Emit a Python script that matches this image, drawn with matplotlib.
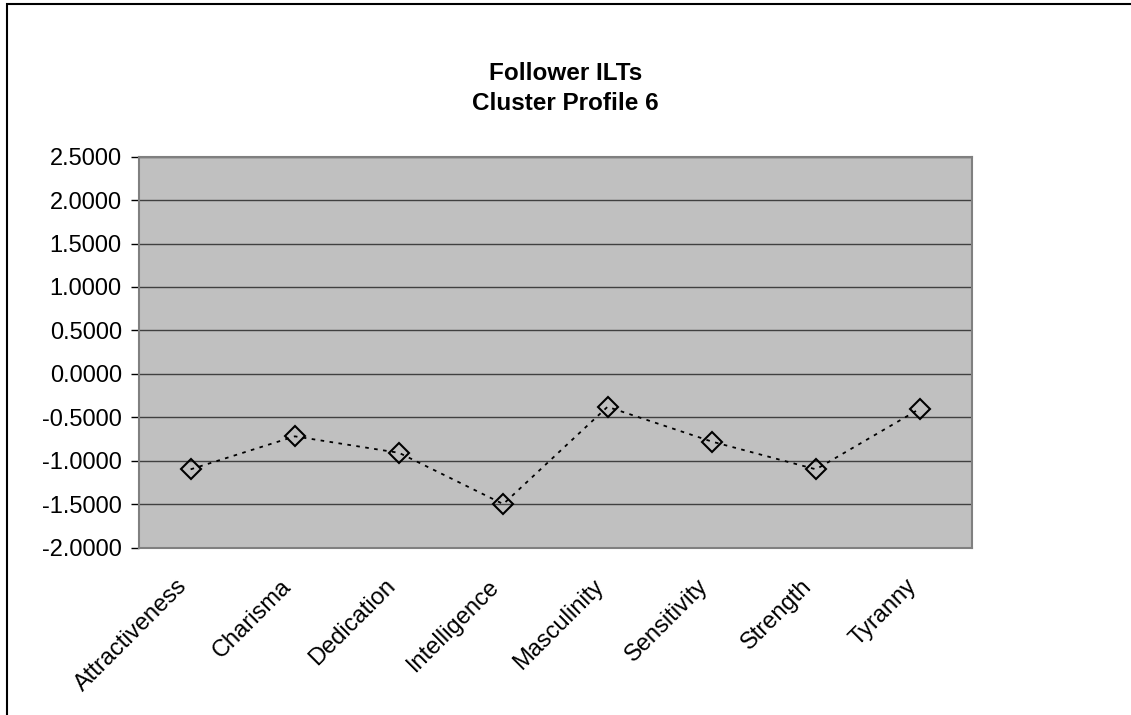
import matplotlib
matplotlib.use("Agg")
import matplotlib.pyplot as plt
from matplotlib.ticker import FormatStrFormatter, MultipleLocator
from matplotlib.patches import Rectangle
from matplotlib.transforms import ScaledTranslation

categories = ["Attractiveness", "Charisma", "Dedication", "Intelligence",
              "Masculinity", "Sensitivity", "Strength", "Tyranny"]
values = [-1.10, -0.72, -0.91, -1.50, -0.38, -0.78, -1.10, -0.40]
title_lines = ["Follower ILTs", "Cluster Profile 6"]

plt.rcParams['font.family'] = ['Liberation Sans', 'DejaVu Sans']

fig = plt.figure(figsize=(11.31, 7.15), dpi=100)
ax = fig.add_axes([138.5/1131, 1-547.5/715, (972.3-138.5)/1131, (547.5-156.7)/715])

x = list(range(len(categories)))
ax.plot(x, values, color='black', linestyle=(0, (2, 3)), linewidth=1.3,
        marker='D', markersize=10, markerfacecolor='none', markeredgecolor='black',
        markeredgewidth=1.5, zorder=3)

ax.set_facecolor('#C0C0C0')
ax.set_xlim(-0.5, len(categories)-0.5)
ax.set_ylim(-2.0, 2.5)
ax.yaxis.set_major_locator(MultipleLocator(0.5))
ax.yaxis.set_major_formatter(FormatStrFormatter('%.4f'))
ax.grid(axis='y', color='#404040', linewidth=1.0)
ax.set_axisbelow(True)
for s in ax.spines.values():
    s.set_color('#808080')
    s.set_linewidth(1.5)

ax.set_xticks(x)
ax.set_xticklabels(categories, rotation=45, ha='right', rotation_mode='anchor', fontsize=17)
ax.tick_params(axis='x', length=0, pad=20)
ax.tick_params(axis='y', labelsize=17, length=6, width=1, color='black', pad=6)
offset = ScaledTranslation(-15/100, 0, fig.dpi_scale_trans)
for lab in ax.get_xticklabels():
    lab.set_transform(lab.get_transform() + offset)

fig.text(0.5, 1-74/715, title_lines[0], ha='center', va='center', fontsize=17.5, fontweight='bold')
fig.text(0.5, 1-104/715, title_lines[1], ha='center', va='center', fontsize=17.5, fontweight='bold')

fig.patches.append(Rectangle((7/1131, -0.1), 1.2, 1-4/715+0.1, transform=fig.transFigure,
                             fill=False, edgecolor='black', linewidth=1.5, figure=fig))

fig.savefig("out.png", dpi=100)
